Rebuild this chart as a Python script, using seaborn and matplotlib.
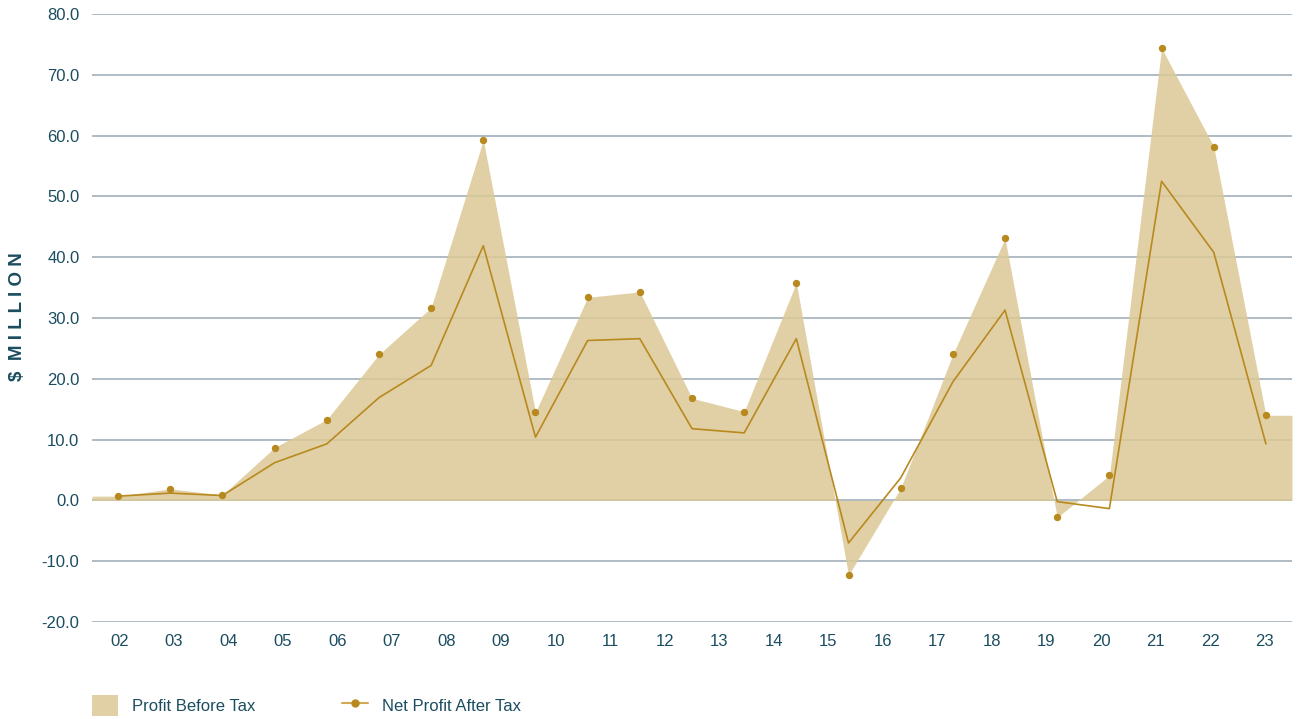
import numpy as np
import pandas as pd
import matplotlib
matplotlib.use("Agg")
import matplotlib.pyplot as plt
from matplotlib.patches import Patch
from matplotlib.lines import Line2D
import seaborn as sns

# ---- data ----
year_labels = ["02", "03", "04", "05", "06", "07", "08", "09", "10", "11", "12",
               "13", "14", "15", "16", "17", "18", "19", "20", "21", "22", "23"]
profit_before_tax = [0.7, 1.9, 0.9, 8.7, 13.3, 24.0, 31.7, 59.3, 14.5, 33.4, 34.3,
                     16.8, 14.6, 35.8, -12.3, 2.0, 24.0, 43.1, -2.8, 4.1, 74.4, 58.2, 14.0]
net_profit_after_tax = [0.7, 1.2, 0.8, 6.2, 9.3, 16.9, 22.2, 41.9, 10.4, 26.3, 26.6,
                        11.8, 11.1, 26.6, -7.0, 3.7, 19.5, 31.3, -0.2, -1.35, 52.5, 40.8, 9.3]
y_ticks = [-20, -10, 0, 10, 20, 30, 40, 50, 60, 70, 80]

sns.set_theme(style="white")
plt.rcParams["font.family"] = ["Liberation Sans", "DejaVu Sans"]

TEXT = "#1b4d60"
GOLD = "#b8891e"
AREA = "#dcc996"
GRID = "#9aa8b4"

n = len(profit_before_tax)
df = pd.DataFrame({"x": np.arange(n), "pbt": profit_before_tax, "npat": net_profit_after_tax})

fig = plt.figure(figsize=(12.98, 7.19), dpi=100)
ax = fig.add_axes([92 / 1298, 1 - 622 / 719, 1200 / 1298, 608 / 719])

for t in y_ticks:
    ax.axhline(t, color=GRID, lw=1.1, zorder=0)

# area with flat half-step extension at both ends
xa = np.concatenate([[-0.5], df["x"].values, [n - 0.5]])
ya = np.concatenate([[df["pbt"].iloc[0]], df["pbt"].values, [df["pbt"].iloc[-1]]])
ax.fill_between(xa, 0, ya, color=AREA, alpha=0.86, lw=0, zorder=1)

sns.lineplot(data=df, x="x", y="npat", ax=ax, color=GOLD, lw=1.2, zorder=3)
sns.scatterplot(data=df, x="x", y="pbt", ax=ax, color=GOLD, s=28, linewidth=0, zorder=4)

ax.set_xlim(-0.5, n - 0.5)
ax.set_ylim(-20, 80)
ax.set_yticks(y_ticks)
ax.set_yticklabels([f"{v:.1f}" for v in y_ticks])
nl = len(year_labels)
ax.set_xticks([(j + 0.5) * n / nl - 0.5 for j in range(nl)])
ax.set_xticklabels(year_labels)
ax.tick_params(axis="both", length=0, labelsize=12, labelcolor=TEXT)
ax.tick_params(axis="y", pad=9)
ax.tick_params(axis="x", pad=9)
ax.set_xlabel("")
ax.set_ylabel("")
for s in ax.spines.values():
    s.set_visible(False)

fig.text(18 / 1298, 1 - 317 / 719, "$  M I L L I O N", rotation=90, ha="center", va="center",
         fontsize=13.5, fontweight="bold", color=TEXT)

handles = [Patch(facecolor=AREA, alpha=0.86, edgecolor="none"),
           Line2D([0], [0], color="#cfa955", lw=1.5, marker="o", markersize=5,
                  markerfacecolor=GOLD, markeredgecolor=GOLD)]
fig.legend(handles, ["Profit Before Tax", "Net Profit After Tax"], loc="lower left",
           bbox_to_anchor=(92 / 1298, 3 / 719), ncol=2, frameon=False, fontsize=12,
           labelcolor=TEXT, handlelength=1.56, handleheight=1.56, handletextpad=0.84,
           columnspacing=5.2, borderpad=0, borderaxespad=0)

fig.savefig("out.png", dpi=100)
